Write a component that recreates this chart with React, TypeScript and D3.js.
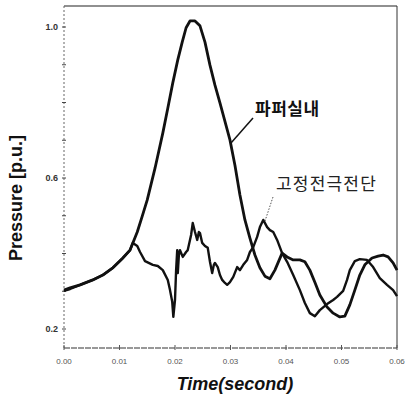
import React from "react";
import * as d3 from "d3";

const xTickValues = [0, 0.01, 0.02, 0.03, 0.04, 0.05, 0.06];
const xTickLabels = ["0.00", "0.01", "0.02", "0.03", "0.04", "0.05", "0.06"];
const yTickValues = [1.0, 0.6, 0.2];
const yTickLabels = ["1.0", "0.6", "0.2"];
const yMinorTicks = [1.0, 0.9, 0.8, 0.7, 0.6, 0.5, 0.4, 0.3, 0.2];

const seriesNames = ["파퍼실내", "고정전극전단"];

const timeA = [0, 0.0011, 0.0029, 0.0052, 0.007, 0.0088, 0.0106, 0.0119, 0.0132, 0.0141, 0.015, 0.0164, 0.0178, 0.0187, 0.0196, 0.0205, 0.0213, 0.022, 0.0227, 0.0236, 0.0245, 0.0254, 0.0263, 0.0272, 0.0281, 0.0299, 0.0308, 0.0317, 0.0326, 0.0335, 0.0344, 0.0353, 0.0362, 0.0371, 0.038, 0.0393, 0.0402, 0.0413, 0.0425, 0.0434, 0.0443, 0.0452, 0.0461, 0.0474, 0.0485, 0.0497, 0.0506, 0.0515, 0.0524, 0.0533, 0.0542, 0.0555, 0.0566, 0.0575, 0.0584, 0.0593, 0.06];
const pressureA = [0.303, 0.309, 0.317, 0.33, 0.343, 0.362, 0.388, 0.409, 0.457, 0.499, 0.542, 0.626, 0.719, 0.785, 0.852, 0.913, 0.96, 0.998, 1.016, 1.016, 1.003, 0.96, 0.899, 0.846, 0.799, 0.701, 0.634, 0.555, 0.489, 0.441, 0.396, 0.362, 0.34, 0.333, 0.356, 0.401, 0.391, 0.383, 0.383, 0.378, 0.356, 0.324, 0.29, 0.258, 0.242, 0.232, 0.234, 0.264, 0.303, 0.343, 0.37, 0.388, 0.393, 0.396, 0.391, 0.375, 0.356];

const timeB = [0, 0.0011, 0.0029, 0.0052, 0.007, 0.0088, 0.0106, 0.0119, 0.0124, 0.0132, 0.0137, 0.0146, 0.016, 0.0169, 0.0178, 0.0187, 0.0191, 0.0195, 0.0197, 0.02, 0.0202, 0.0204, 0.0205, 0.0207, 0.0209, 0.0214, 0.022, 0.0223, 0.0229, 0.0232, 0.0236, 0.024, 0.0243, 0.0245, 0.0249, 0.0254, 0.0259, 0.0263, 0.0267, 0.027, 0.0272, 0.0277, 0.0281, 0.0285, 0.029, 0.0294, 0.0299, 0.0305, 0.0312, 0.0317, 0.0323, 0.033, 0.0335, 0.0341, 0.0348, 0.0353, 0.0359, 0.0366, 0.0371, 0.0377, 0.0384, 0.0393, 0.0402, 0.0413, 0.0425, 0.0434, 0.0443, 0.0452, 0.0461, 0.0474, 0.0485, 0.0492, 0.0503, 0.051, 0.0515, 0.0524, 0.0533, 0.0546, 0.0557, 0.0569, 0.0582, 0.0593, 0.06];
const pressureB = [0.301, 0.306, 0.317, 0.33, 0.343, 0.362, 0.388, 0.409, 0.428, 0.42, 0.404, 0.38, 0.37, 0.367, 0.356, 0.33, 0.303, 0.272, 0.232, 0.277, 0.356, 0.409, 0.348, 0.396, 0.409, 0.391, 0.404, 0.409, 0.449, 0.481, 0.457, 0.436, 0.457, 0.454, 0.428, 0.42, 0.415, 0.378, 0.348, 0.37, 0.375, 0.364, 0.343, 0.33, 0.322, 0.317, 0.324, 0.338, 0.364, 0.356, 0.37, 0.383, 0.404, 0.417, 0.444, 0.47, 0.489, 0.47, 0.462, 0.457, 0.436, 0.401, 0.378, 0.343, 0.303, 0.269, 0.242, 0.234, 0.25, 0.266, 0.277, 0.285, 0.301, 0.33, 0.356, 0.38, 0.385, 0.383, 0.364, 0.335, 0.317, 0.303, 0.287];

export default function App() {
  const W = 407;
  const H = 405;
  const left = 64, right = 397, top = 6, bottom = 348;
  const x = d3.scaleLinear().domain([0, 0.06]).range([left, right]);
  const y = d3.scaleLinear().domain([0.2, 1.0]).range([329, 27]);

  const line = d3
    .line<[number, number]>()
    .x((d) => x(d[0]))
    .y((d) => y(d[1]))
    .curve(d3.curveLinear);

  const dataA = timeA.map((t, i) => [t, pressureA[i]] as [number, number]);
  const dataB = timeB.map((t, i) => [t, pressureB[i]] as [number, number]);

  return (
    <svg
      width={W}
      height={H}
      style={{ position: "absolute", left: 0, top: 0, background: "#fff" }}
      fontFamily="Liberation Sans, Arial, sans-serif"
    >
      <rect x={0} y={0} width={W} height={H} fill="#fff" />
      {/* frame */}
      <line x1={left} y1={top} x2={right} y2={top} stroke="#222" strokeWidth={1.2} />
      <line x1={right} y1={top} x2={right} y2={bottom} stroke="#333" strokeWidth={1} />
      <line x1={left} y1={bottom} x2={right} y2={bottom} stroke="#333" strokeWidth={1.2} strokeDasharray="6,1" />
      <line x1={left} y1={top} x2={left} y2={bottom} stroke="#666" strokeWidth={1} strokeDasharray="2,2" />

      {/* y minor ticks */}
      {yMinorTicks.map((v, i) => (
        <line key={"ym" + i} x1={left - 2} x2={left + 2} y1={y(v)} y2={y(v)} stroke="#444" strokeWidth={1} />
      ))}
      {/* y tick labels */}
      {yTickValues.map((v, i) => (
        <text
          key={"yl" + i}
          x={left - 6}
          y={y(v)}
          dy="0.35em"
          textAnchor="end"
          fontSize={9}
          fontWeight="bold"
          fill="#333"
        >
          {yTickLabels[i]}
        </text>
      ))}
      {/* x ticks */}
      {xTickValues.map((v, i) => (
        <g key={"x" + i}>
          <line x1={x(v)} x2={x(v)} y1={bottom - 3} y2={bottom + 2} stroke="#555" strokeWidth={1} />
          <text x={x(v)} y={bottom + 16} textAnchor="middle" fontSize={8} fill="#555">
            {xTickLabels[i]}
          </text>
        </g>
      ))}

      {/* curves */}
      <path d={line(dataB) || ""} fill="none" stroke="#111" strokeWidth={2.4} strokeLinejoin="round" />
      <path d={line(dataA) || ""} fill="none" stroke="#111" strokeWidth={2.8} strokeLinejoin="round" />

      {/* annotations */}
      <line x1={231} y1={143} x2={253} y2={118} stroke="#111" strokeWidth={1.5} />
      <text
        x={255}
        y={115}
        fontSize={17}
        fontWeight="bold"
        fontFamily="Noto Sans CJK KR"
        letterSpacing={0.5}
        fill="#111"
      >
        {seriesNames[0]}
      </text>
      <line x1={273} y1={197} x2={265} y2={221} stroke="#555" strokeWidth={1} strokeDasharray="1.5,1.5" />
      <text
        x={276}
        y={190}
        fontSize={17}
        fontFamily="Noto Sans CJK KR"
        letterSpacing={1.2}
        fill="#222"
      >
        {seriesNames[1]}
      </text>

      {/* axis titles */}
      <text
        transform={`translate(22, 198) rotate(-90)`}
        textAnchor="middle"
        fontSize={18}
        fontWeight="bold"
        fill="#111"
      >
        Pressure [p.u.]
      </text>
      <text
        x={235}
        y={390}
        textAnchor="middle"
        fontSize={18}
        fontWeight="bold"
        fontStyle="italic"
        fill="#111"
      >
        Time(second)
      </text>
    </svg>
  );
}
